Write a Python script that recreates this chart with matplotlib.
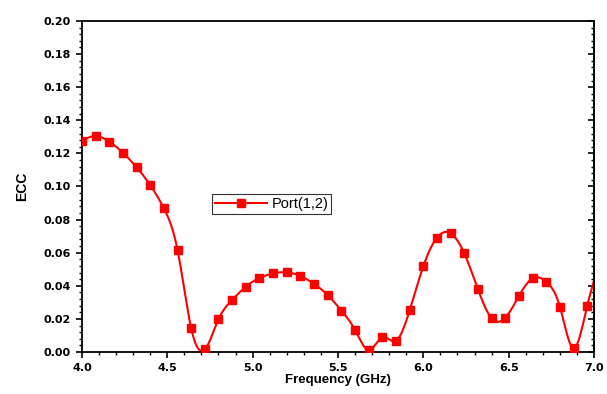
import numpy as np
import matplotlib
matplotlib.use('Agg')
import matplotlib.pyplot as plt
from matplotlib.ticker import MultipleLocator

# ECC between port 1 and port 2
freq = [4.00, 4.08, 4.16, 4.24, 4.32, 4.40, 4.48, 4.56, 4.64, 4.72,
        4.80, 4.88, 4.96, 5.04, 5.12, 5.20, 5.28, 5.36, 5.44, 5.52,
        5.60, 5.68, 5.76, 5.84, 5.92, 6.00, 6.08, 6.16, 6.24, 6.32,
        6.40, 6.48, 6.56, 6.64, 6.72, 6.80, 6.88, 6.96, 7.04]
ecc = [0.1277, 0.1305, 0.1271, 0.1204, 0.1116, 0.1009, 0.0868, 0.0616, 0.0143, 0.0016,
       0.0198, 0.0314, 0.0395, 0.0447, 0.0475, 0.0481, 0.0459, 0.0411, 0.0344, 0.0250,
       0.0133, 0.0012, 0.0089, 0.0068, 0.0252, 0.0518, 0.0691, 0.0717, 0.0596, 0.0379,
       0.0204, 0.0207, 0.0338, 0.0445, 0.0425, 0.0274, 0.0022, 0.0278, 0.0560]


def spline_curve(x, y, n=20):
    # natural cubic spline through the points, only for drawing the smooth line
    x = np.asarray(x)
    y = np.asarray(y)
    m = len(x)
    h = np.diff(x)
    A = np.zeros((m, m))
    b = np.zeros(m)
    A[0, 0] = A[-1, -1] = 1
    for i in range(1, m - 1):
        A[i, i - 1] = h[i - 1]
        A[i, i] = 2 * (h[i - 1] + h[i])
        A[i, i + 1] = h[i]
        b[i] = 3 * ((y[i + 1] - y[i]) / h[i] - (y[i] - y[i - 1]) / h[i - 1])
    c = np.linalg.solve(A, b)
    xs, ys = [], []
    for i in range(m - 1):
        t = np.linspace(0, h[i], n, endpoint=False)
        bi = (y[i + 1] - y[i]) / h[i] - h[i] * (2 * c[i] + c[i + 1]) / 3
        di = (c[i + 1] - c[i]) / (3 * h[i])
        xs.append(x[i] + t)
        ys.append(y[i] + bi * t + c[i] * t ** 2 + di * t ** 3)
    xs.append([x[-1]])
    ys.append([y[-1]])
    return np.concatenate(xs), np.concatenate(ys)


plt.rcParams['font.family'] = ['Liberation Sans', 'DejaVu Sans']

fig = plt.figure(figsize=(6.07, 3.94), dpi=100)
ax = fig.add_axes([0.135, 0.1066, 0.8436, 0.8401])

xs, ys = spline_curve(freq, ecc)
ax.plot(xs, ys, color='#ff0000', linewidth=1.5, zorder=2)
ax.plot(freq, ecc, linestyle='none', marker='s', markersize=5.8,
        color='#ff0000', zorder=3)
# legend proxy
ax.plot([], [], color='#ff0000', linewidth=1.5, marker='s', markersize=5.8,
        label='Port(1,2)')

ax.set_xlim(4.0, 7.0)
ax.set_ylim(0.0, 0.20)
ax.xaxis.set_major_locator(MultipleLocator(0.5))
ax.xaxis.set_minor_locator(MultipleLocator(0.1))
ax.yaxis.set_major_locator(MultipleLocator(0.02))
ax.yaxis.set_minor_locator(MultipleLocator(0.004))
ax.xaxis.set_major_formatter(plt.FormatStrFormatter('%.1f'))
ax.yaxis.set_major_formatter(plt.FormatStrFormatter('%.2f'))

ax.tick_params(axis='both', which='major', direction='out', length=4, width=1.2,
               labelsize=8, pad=4)
ax.tick_params(axis='both', which='minor', direction='out', length=2.5, width=1.0)
for lab in ax.get_xticklabels() + ax.get_yticklabels():
    lab.set_fontweight('bold')
    lab.set_family('DejaVu Sans')
for sp in ax.spines.values():
    sp.set_linewidth(1.3)

# right side ticks point inward
sec = ax.secondary_yaxis('right')
sec.yaxis.set_major_locator(MultipleLocator(0.02))
sec.yaxis.set_minor_locator(MultipleLocator(0.004))
sec.tick_params(which='major', direction='in', length=4, width=1.2, labelright=False)
sec.tick_params(which='minor', direction='in', length=2.5, width=1.0)
sec.spines['right'].set_linewidth(1.3)

ax.set_xlabel('Frequency (GHz)', fontsize=9.5, fontweight='bold', labelpad=1)
ax.set_ylabel('ECC', fontsize=10, fontweight='bold', labelpad=10)

leg = ax.legend(loc='center', bbox_to_anchor=(0.37, 0.447), fontsize=10.5,
                frameon=True, fancybox=False, borderpad=0.2, handlelength=3.6,
                handletextpad=0.3)
leg.get_frame().set_edgecolor('black')
leg.get_frame().set_linewidth(0.8)

fig.savefig('out.png', dpi=100)
